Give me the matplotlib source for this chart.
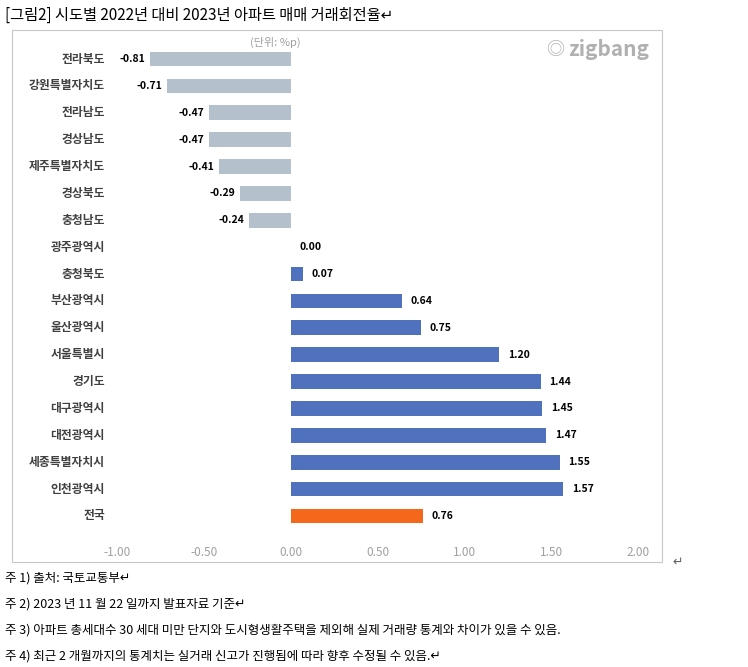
import matplotlib
matplotlib.use("Agg")
import matplotlib.pyplot as plt
from matplotlib.patches import Rectangle

plt.rcParams["font.family"] = ["Noto Sans CJK JP", "Noto Sans CJK KR", "Noto Sans CJK SC", "DejaVu Sans"]

regions = ["전라북도", "강원특별자치도", "전라남도", "경상남도", "제주특별자치도", "경상북도",
           "충청남도", "광주광역시", "충청북도", "부산광역시", "울산광역시", "서울특별시",
           "경기도", "대구광역시", "대전광역시", "세종특별자치시", "인천광역시", "전국"]
values = [-0.81, -0.71, -0.47, -0.47, -0.41, -0.29, -0.24, 0.00, 0.07, 0.64, 0.75,
          1.20, 1.44, 1.45, 1.47, 1.55, 1.57, 0.76]
xticks = [-1.0, -0.5, 0.0, 0.5, 1.0, 1.5, 2.0]
notes = ["주 1) 출처: 국토교통부↵",
         "주 2) 2023 년 11 월 22 일까지 발표자료 기준↵",
         "주 3) 아파트 총세대수 30 세대 미만 단지와 도시형생활주택을 제외해 실제 거래량 통계와 차이가 있을 수 있음.",
         "주 4) 최근 2 개월까지의 통계치는 실거래 신고가 진행됨에 따라 향후 수정될 수 있음.↵"]

W, H = 748, 667
fig = plt.figure(figsize=(W / 100, H / 100), dpi=100)
fig.patch.set_facecolor("white")

# chart frame
fig.patches.append(Rectangle((12 / W, 1 - 562 / H), 650 / W, 532 / H, transform=fig.transFigure,
                             fill=False, edgecolor="#c8c8c8", linewidth=0.8))

ax = fig.add_axes([117 / W, 1 - 529.4 / H, 521 / W, 483.8 / H])
colors = []
for i, v in enumerate(values):
    if regions[i] == "전국":
        colors.append("#f4681c")
    elif v < 0:
        colors.append("#b4c0cc")
    else:
        colors.append("#4f71be")
ypos = list(range(len(regions)))
ax.barh(ypos, values, height=0.55, color=colors)
ax.set_ylim(len(regions) - 0.5, -0.5)
ax.set_xlim(-1.0, 2.0)
ax.set_xticks(xticks)
ax.set_xticklabels(["%.2f" % t for t in xticks], color="#a0a0a0", fontsize=8.5)
ax.tick_params(axis="x", length=0, pad=12)
ax.set_yticks([])
for s in ax.spines.values():
    s.set_visible(False)

for y, (name, v) in enumerate(zip(regions, values)):
    ax.text(-1.07, y, name, ha="right", va="center", fontsize=8.5, fontweight="bold", color="#404040")
    if v < 0:
        ax.text(v - 0.03, y, "%.2f" % v, ha="right", va="center", fontsize=7.5, fontweight="bold")
    else:
        ax.text(v + 0.05, y, "%.2f" % v, ha="left", va="center", fontsize=7.5, fontweight="bold")

fig.text(250 / W, 1 - 42 / H, "(단위: %p)", fontsize=8, color="#a0a0a0", style="italic", va="center")
fig.text(568 / W, 1 - 50 / H, "zigbang", fontsize=15, color="#b0b0b0", fontweight="bold", va="center")
fig.text(546 / W, 1 - 50 / H, "◎", fontsize=13, color="#b0b0b0", va="center")

fig.text(5 / W, 1 - 15 / H, "[그림2] 시도별 2022년 대비 2023년 아파트 매매 거래회전율↵", fontsize=11, va="center")
fig.text(672 / W, 1 - 562 / H, "↵", fontsize=9, va="center", color="#606060")
for i, n in enumerate(notes):
    fig.text(5 / W, 1 - (578 + i * 26) / H, n, fontsize=9, va="center")

fig.savefig("out.png", dpi=100)
plt.close(fig)
